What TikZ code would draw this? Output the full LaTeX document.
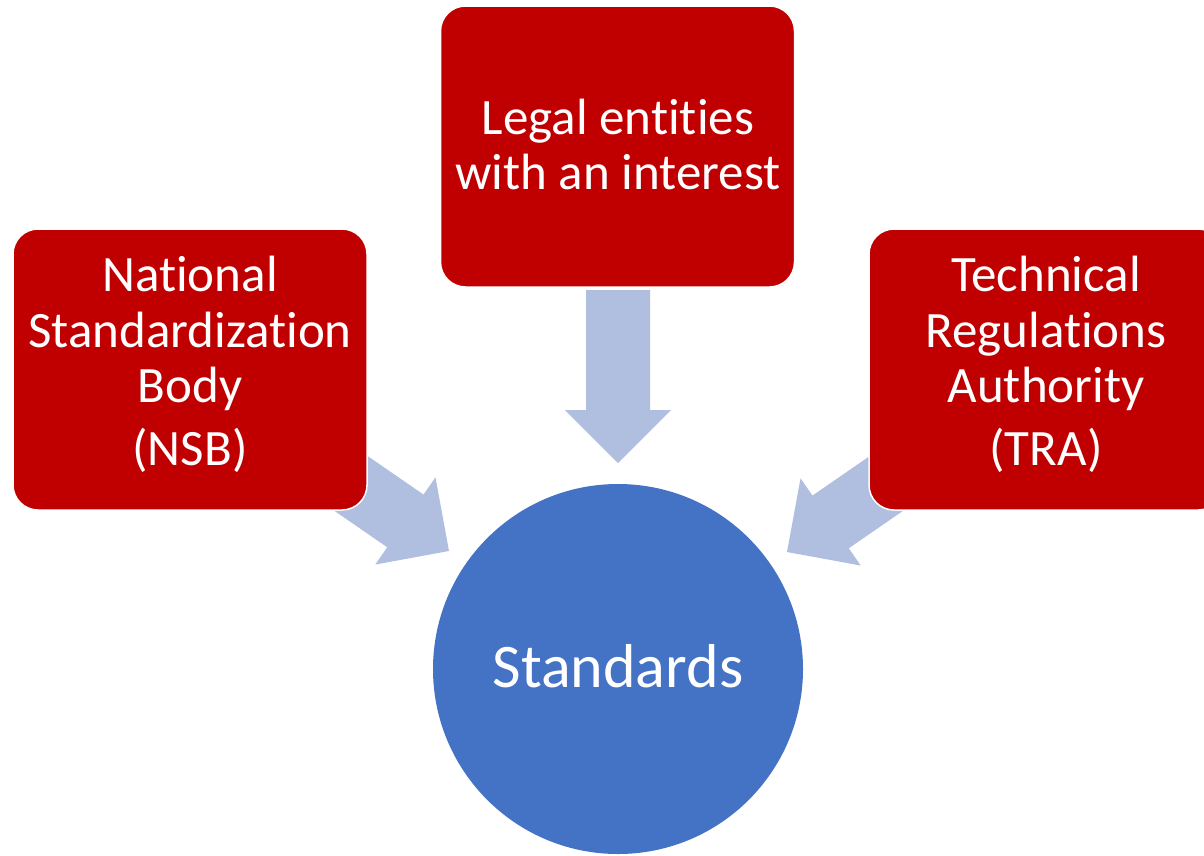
\documentclass[tikz,border=0pt]{standalone}
\usepackage{fontspec}
\setmainfont[Ligatures=CommonOff]{Carlito}
\definecolor{boxred}{HTML}{C00000}
\definecolor{circblue}{HTML}{4472C4}
\definecolor{arrowfill}{HTML}{B0BEDF}
\begin{document}
\begin{tikzpicture}[x=1pt,y=-1pt,
  box/.style={fill=boxred, draw=white, line width=1.5pt, rounded corners=25pt,
    minimum width=354pt, minimum height=281pt, inner sep=0pt},
  boxline/.style={text=white, font=\fontsize{51}{56}\selectfont, anchor=base, inner sep=0pt},
  circ/.style={circle, fill=circblue, minimum size=370pt, inner sep=0pt},
  circline/.style={text=white, font=\fontsize{62}{70}\selectfont, anchor=base, inner sep=0pt},
  blockarrow/.style={fill=arrowfill}
]
\useasboundingbox (0,0) rectangle (1204,855);
\clip (0,0) rectangle (1204,855);

% arrow tips
\coordinate (tipT) at (618,463);
\coordinate (tipL) at (449,551);
\coordinate (tipR) at (787,552);

% block arrows
\begin{scope}[shift={(tipT)}, rotate=-90]
  \fill[blockarrow] (0,0) -- (-53,53) -- (-53,32) -- (-173,32) -- (-173,-32) -- (-53,-32) -- (-53,-53) -- cycle;
\end{scope}
\begin{scope}[shift={(tipL)}, rotate=-34.6]
  \fill[blockarrow] (0,0) -- (-53,53) -- (-53,32) -- (-140,32) -- (-140,-32) -- (-53,-32) -- (-53,-53) -- cycle;
\end{scope}
\begin{scope}[shift={(tipR)}, rotate=-145.4]
  \fill[blockarrow] (0,0) -- (-53,53) -- (-53,32) -- (-140,32) -- (-140,-32) -- (-53,-32) -- (-53,-53) -- cycle;
\end{scope}

% boxes
\node[box] (nsb) at (190,369.5) {};
\node[box] (legal) at (617.5,146.5) {};
\node[box] (tra) at (1046,369.5) {};
\node[circ] (std) at (618,669) {};

% texts
\node[boxline] (nsb1) at (190,291) {National};
\node[boxline] (nsb2) at (190,347) {Standardization};
\node[boxline] (nsb3) at (190,402) {Body};
\node[boxline] (nsb4) at (190,465) {(NSB)};

\node[boxline] (legal1) at (618,134) {Legal entities};
\node[boxline] (legal2) at (618,189) {with an interest};

\node[boxline] (tra1) at (1046,291) {Technical};
\node[boxline] (tra2) at (1046,347) {Regulations};
\node[boxline] (tra3) at (1046,402) {Authority};
\node[boxline] (tra4) at (1046,465) {(TRA)};

\node[circline] (std1) at (618,687) {Standards};
\end{tikzpicture}
\end{document}
